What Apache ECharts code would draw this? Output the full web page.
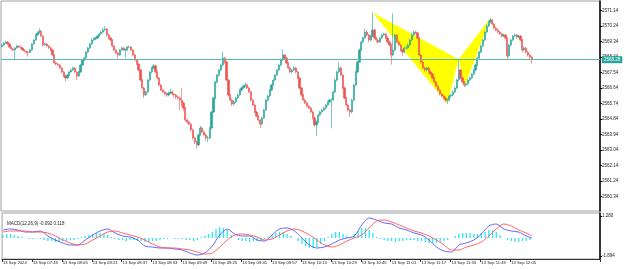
<!DOCTYPE html>
<html><head><meta charset="utf-8">
<script src="https://cdn.jsdelivr.net/npm/echarts@6/dist/echarts.min.js"></script>
<style>html,body{margin:0;padding:0;background:#fff}#c{width:625px;height:269px}</style>
</head><body><div id="c"></div>
<script>
// ---- data ----
const firstOpen = 2569.05;
const closes = [
2569.13,2569.25,2569.30,2569.19,2569.01,2568.90,2568.84,2568.96,2569.07,2569.01,
2568.96,2568.84,2568.78,2568.72,2568.70,2568.84,2569.19,2569.42,2569.71,2569.82,
2569.94,2569.65,2569.13,2569.19,2569.07,2568.96,2568.84,2568.55,2568.09,2568.03,
2567.97,2567.80,2567.57,2567.33,2567.22,2567.39,2567.57,2567.68,2567.80,2567.57,
2567.33,2567.57,2567.97,2568.26,2568.38,2568.72,2568.96,2569.19,2569.42,2569.48,
2569.54,2569.65,2569.77,2569.88,2570.00,2570.05,2569.71,2569.54,2569.42,2569.07,
2568.84,2568.67,2568.55,2568.84,2568.96,2568.84,2568.84,2569.01,2569.01,2568.84,
2568.55,2568.26,2568.03,2567.68,2567.10,2566.64,2566.23,2566.41,2567.10,2567.57,
2567.80,2567.92,2567.57,2567.22,2566.81,2566.52,2566.41,2566.29,2566.23,2566.35,
2566.41,2566.29,2566.23,2566.12,2566.06,2565.94,2565.77,2565.48,2564.78,2564.67,
2564.55,2564.21,2563.74,2563.51,2563.34,2563.92,2564.32,2564.09,2563.92,2563.74,
2563.74,2564.32,2565.25,2566.06,2566.99,2567.39,2567.68,2567.97,2568.38,2568.14,
2567.10,2566.23,2565.94,2565.71,2565.83,2566.06,2566.23,2566.52,2566.64,2566.75,
2566.81,2566.64,2566.41,2565.94,2565.65,2565.25,2565.01,2564.78,2564.55,2564.90,
2565.36,2565.94,2566.18,2566.52,2566.81,2567.10,2567.39,2567.68,2567.97,2568.26,
2568.55,2568.38,2568.09,2567.80,2567.57,2567.68,2567.80,2567.57,2567.22,2566.64,
2566.23,2565.94,2565.77,2565.59,2565.48,2565.25,2564.90,2564.50,2564.67,2565.07,
2565.25,2565.36,2565.48,2565.65,2565.83,2565.94,2565.94,2566.41,2567.10,2567.57,
2567.80,2567.39,2566.64,2566.06,2565.65,2565.36,2565.25,2565.94,2566.81,2567.57,
2568.14,2568.84,2569.30,2569.54,2569.88,2569.71,2569.42,2569.65,2570.00,2569.54,
2569.42,2569.30,2569.54,2569.71,2569.77,2569.54,2569.30,2569.13,2568.55,2568.84,
2569.71,2569.30,2569.13,2568.84,2568.72,2568.96,2568.96,2569.13,2569.42,2569.71,
2569.88,2569.82,2569.54,2568.55,2568.14,2567.80,2567.68,2567.80,2567.57,2567.45,
2567.22,2566.99,2566.75,2566.52,2566.29,2566.18,2566.06,2565.94,2565.94,2566.18,
2566.23,2566.41,2566.64,2567.10,2567.68,2567.22,2566.99,2566.81,2566.87,2567.10,
2567.22,2567.45,2567.68,2567.97,2568.38,2568.72,2569.07,2569.42,2569.88,2570.23,
2570.46,2570.58,2570.35,2570.11,2570.00,2569.88,2569.77,2569.65,2569.71,2569.54,
2568.49,2569.13,2569.42,2569.65,2569.71,2569.59,2569.65,2569.42,2568.84,2568.96,
2568.72,2568.55,2568.43,2568.28
];
const highs = [
2569.20,2569.31,2569.38,2569.34,2569.24,2569.06,2568.95,2569.02,2569.14,2569.12,
2569.06,2569.00,2568.88,2568.82,2568.77,2568.90,2569.24,2569.47,2569.76,2569.90,
2570.10,2570.00,2569.70,2569.28,2569.25,2569.12,2569.01,2568.90,2568.60,2568.18,
2568.10,2568.02,2567.86,2567.62,2567.40,2567.45,2567.62,2567.75,2567.88,2567.86,
2567.63,2567.64,2568.02,2568.32,2568.45,2568.78,2569.02,2569.25,2569.50,2569.58,
2569.62,2569.72,2569.84,2569.95,2570.12,2570.23,2570.12,2569.78,2569.60,2569.48,
2569.12,2568.92,2568.74,2568.90,2569.05,2569.02,2568.93,2569.08,2569.10,2569.08,
2568.90,2568.62,2568.32,2568.10,2567.75,2567.18,2566.70,2566.50,2567.15,2567.62,
2567.88,2568.03,2568.00,2567.64,2567.30,2566.88,2566.60,2566.48,2566.38,2566.42,
2566.60,2566.50,2566.35,2566.30,2566.20,2566.14,2566.62,2565.85,2565.55,2564.86,
2564.75,2564.62,2564.30,2563.82,2563.60,2563.98,2564.45,2564.40,2564.18,2564.02,
2563.85,2564.40,2565.32,2566.12,2567.05,2567.45,2567.75,2568.05,2568.72,2568.45,
2568.22,2567.18,2566.30,2566.02,2565.95,2566.14,2566.32,2566.60,2566.72,2566.85,
2566.95,2566.90,2566.70,2566.48,2566.02,2565.72,2565.32,2565.08,2564.85,2564.98,
2565.42,2566.00,2566.25,2566.60,2566.88,2567.18,2567.45,2567.75,2568.05,2568.35,
2568.88,2568.60,2568.45,2568.15,2567.88,2567.75,2567.92,2567.88,2567.64,2567.30,
2566.70,2566.30,2566.02,2565.85,2565.66,2565.55,2565.32,2564.98,2564.75,2565.15,
2565.32,2565.44,2565.55,2565.72,2565.90,2566.02,2566.05,2566.48,2567.18,2567.65,
2568.14,2567.88,2567.45,2566.72,2566.14,2565.72,2565.44,2566.02,2566.88,2567.65,
2568.22,2568.92,2569.38,2569.62,2570.10,2570.00,2569.78,2569.72,2571.02,2570.08,
2569.62,2569.50,2569.60,2569.78,2569.85,2569.84,2569.62,2569.38,2569.20,2570.98,
2569.78,2569.76,2569.38,2569.20,2568.90,2569.04,2569.05,2569.20,2569.50,2569.85,
2569.98,2569.96,2569.88,2569.60,2568.62,2568.22,2567.88,2567.88,2567.86,2567.64,
2567.52,2567.30,2567.06,2566.82,2566.60,2566.36,2566.26,2566.14,2566.02,2566.25,
2566.30,2566.50,2566.72,2567.18,2568.30,2567.75,2567.30,2567.06,2566.95,2567.18,
2567.30,2567.52,2567.75,2568.05,2568.45,2568.80,2569.15,2569.50,2569.95,2570.32,
2570.55,2570.70,2570.65,2570.42,2570.20,2570.08,2569.95,2569.84,2569.80,2569.78,
2569.60,2569.20,2569.50,2569.72,2569.80,2569.78,2569.72,2569.70,2569.48,2569.05,
2569.02,2568.80,2568.62,2568.50
];
const lows = [
2569.00,2569.08,2569.21,2569.14,2568.95,2568.85,2568.77,2568.25,2568.92,2568.96,
2568.90,2568.80,2568.73,2568.60,2568.45,2568.66,2568.80,2569.15,2569.38,2569.66,
2569.78,2569.60,2569.05,2569.08,2569.00,2568.90,2568.78,2568.50,2568.02,2567.95,
2567.90,2567.75,2567.50,2567.25,2567.02,2567.15,2567.32,2567.52,2567.62,2567.50,
2567.10,2567.28,2567.50,2567.90,2568.20,2568.32,2568.66,2568.90,2569.12,2569.36,
2569.40,2569.48,2569.60,2569.70,2569.82,2569.92,2569.62,2569.45,2569.35,2569.00,
2568.78,2568.60,2568.30,2568.50,2568.80,2568.78,2568.38,2568.80,2568.94,2568.78,
2568.50,2568.20,2567.97,2567.60,2567.02,2566.55,2566.06,2566.18,2566.35,2567.02,
2567.50,2567.72,2567.50,2567.15,2566.74,2566.45,2566.34,2566.22,2566.12,2566.15,
2566.28,2566.22,2566.10,2566.00,2565.98,2565.35,2565.55,2565.30,2564.70,2564.55,
2564.48,2564.12,2563.65,2563.40,2563.10,2563.25,2563.85,2564.00,2563.85,2563.60,
2563.50,2563.65,2564.25,2565.18,2565.98,2566.90,2567.30,2567.60,2567.90,2568.05,
2567.02,2566.15,2565.85,2565.60,2565.62,2565.76,2566.00,2566.18,2566.45,2566.58,
2566.68,2566.58,2566.35,2565.86,2565.58,2565.18,2564.94,2564.70,2564.32,2564.48,
2564.84,2565.30,2565.86,2566.10,2566.45,2566.74,2567.02,2567.32,2567.60,2567.90,
2568.20,2568.30,2568.02,2567.72,2567.50,2567.50,2567.62,2567.50,2567.15,2566.56,
2566.15,2565.86,2565.70,2565.50,2565.40,2565.18,2564.82,2564.40,2563.85,2564.60,
2565.00,2565.18,2565.30,2565.40,2565.58,2565.76,2564.30,2565.88,2566.34,2567.02,
2567.50,2567.32,2566.56,2565.98,2565.58,2565.28,2564.96,2565.18,2565.86,2566.74,
2567.50,2568.08,2568.78,2569.22,2569.48,2569.62,2569.30,2569.35,2569.58,2569.46,
2569.28,2569.22,2569.24,2569.48,2569.64,2569.46,2569.22,2569.05,2568.00,2568.48,
2568.76,2569.22,2569.05,2568.76,2568.50,2568.65,2568.88,2568.90,2569.06,2569.35,
2569.64,2569.76,2569.48,2568.48,2568.05,2567.72,2567.58,2567.60,2567.48,2567.36,
2567.15,2566.92,2566.68,2566.44,2566.22,2566.10,2565.98,2565.80,2565.72,2565.88,
2566.05,2566.15,2566.34,2566.58,2567.02,2567.14,2566.90,2566.70,2566.72,2566.80,
2567.02,2567.15,2567.38,2567.60,2567.90,2568.30,2568.65,2569.00,2569.35,2569.82,
2570.15,2570.38,2570.28,2570.04,2569.92,2569.80,2569.70,2569.58,2569.60,2569.46,
2568.28,2568.42,2569.05,2569.35,2569.58,2569.50,2569.55,2569.35,2568.70,2568.78,
2568.62,2568.45,2568.25,2568.05
];
const priceTicks = [2560.34,2561.24,2562.14,2563.04,2563.94,2564.84,2565.74,2566.64,2567.54,2568.44,2569.34,2570.24,2571.14];
const timeTickLabels = ["13 Sep 2024","13 Sep 07:49","13 Sep 08:05","13 Sep 08:21","13 Sep 08:37","13 Sep 08:53","13 Sep 09:09","13 Sep 09:25","13 Sep 09:41","13 Sep 09:57","13 Sep 10:13","13 Sep 10:29","13 Sep 10:45","13 Sep 11:01","13 Sep 11:17","13 Sep 11:33","13 Sep 11:49","13 Sep 12:05"];
const barsPerTimeLabel = 16;
const slotCount = 320;           // bars + empty chart shift on the right
const lastPrice = 2568.28;
const patternBars   = [198, 238, 244, 247, 261];
const patternPrices = [2571.02, 2565.72, 2568.30, 2566.70, 2570.70];

// MACD window
const macdTicks = [1.280, -1.894];
const macdTitle = "MACD(12,26,9) -0.092 0.118";
const macdBars = [0,4,8,12,16,20,24,28,32,36,40,44,48,52,56,60,64,68,72,76,80,84,88,92,96,100,104,108,112,116,120,124,128,132,136,140,144,148,152,156,160,164,168,172,176,180,184,188,192,196,200,204,208,212,216,220,224,228,232,236,240,244,248,252,256,260,264,268,272,276,280,283];
const macdMain = [0.169,0.248,0.169,0.010,0.010,0.089,-0.307,-0.625,-0.863,-1.022,-1.022,-0.625,-0.228,0.089,0.248,-0.069,-0.307,-0.387,-0.625,-1.101,-1.180,-1.260,-1.260,-1.339,-1.418,-1.656,-1.815,-1.656,-1.101,-0.228,0.248,-0.149,-0.307,-0.307,-0.625,-0.704,-0.228,0.248,0.328,0.089,-0.466,-1.022,-1.260,-1.180,-0.942,-0.625,-0.466,-0.307,0.566,1.121,0.962,0.724,0.645,0.328,0.169,-0.069,-0.228,-0.625,-1.180,-1.498,-1.577,-1.022,-0.863,-0.625,-0.149,0.486,0.645,0.248,0.089,0.010,-0.307,-0.466];
const macdSignal = [0.010,0.089,0.089,0.089,0.010,0.010,-0.069,-0.307,-0.625,-0.863,-1.022,-0.942,-0.625,-0.307,0.010,0.089,-0.069,-0.228,-0.387,-0.625,-0.942,-1.180,-1.260,-1.260,-1.339,-1.418,-1.577,-1.736,-1.656,-1.180,-0.625,-0.228,-0.149,-0.228,-0.387,-0.625,-0.545,-0.228,0.089,0.248,0.089,-0.228,-0.625,-1.022,-1.180,-1.022,-0.704,-0.466,-0.228,0.328,0.883,0.962,0.804,0.566,0.328,0.089,-0.069,-0.307,-0.625,-1.022,-1.418,-1.418,-1.180,-1.022,-0.783,-0.307,0.248,0.645,0.486,0.169,-0.069,-0.307];
const histBarStep = 2;           // histogram read at every second bar
const histValues = [
0.24,0.32,0.32,0.24,
0.16,0.08,0.00,-0.08,-0.08,0.00,
-0.08,-0.16,-0.24,-0.24,-0.32,-0.32,-0.24,-0.24,-0.16,-0.16,-0.08,0.08,
0.16,0.24,0.32,0.40,0.40,0.32,0.24,0.08,
-0.08,-0.16,-0.16,-0.24,-0.16,-0.16,-0.24,-0.24,-0.32,
-0.32,-0.24,-0.24,-0.16,-0.08,
-0.08,0.00,-0.08,-0.08,-0.08,-0.16,-0.16,-0.24,-0.16,
0.08,0.16,0.32,0.48,
0.71,0.87,0.79,0.63,
0.24,0.00,-0.16,-0.24,-0.24,-0.32,-0.24,-0.24,-0.16,-0.08,0.08,
0.24,0.40,0.48,0.48,0.32,0.16,0.00,
-0.24,-0.48,-0.63,-0.79,-0.79,-0.71,-0.48,-0.24,
0.08,0.32,0.48,0.48,0.32,0.16,0.08,
0.32,0.56,0.79,0.79,0.63,0.40,
0.08,-0.08,-0.16,-0.24,-0.24,-0.32,-0.24,-0.24,-0.16,-0.16,
-0.16,-0.24,-0.24,-0.32,-0.40,-0.40,-0.40,-0.32,-0.24,-0.16,0.00,0.16,
0.32,0.40,0.40,0.40,0.32,0.32,0.40,0.48,
0.63,0.63,0.48,0.24,0.00,
-0.16,-0.24,-0.32,-0.32,-0.24,-0.24,-0.16
];

// ---- build ----
const n = closes.length;
const opens = closes.map((c, i) => i === 0 ? firstOpen : closes[i - 1]);
const candles = closes.map((c, i) => [opens[i], c, lows[i], highs[i]]);
const slots = Array.from({length: slotCount}, (_, i) => String(i));
const histData = histValues.map((v, k) => [k * histBarStep, v]);
const mainData = macdBars.map((b, k) => [b, macdMain[k]]);
const sigData = macdBars.map((b, k) => [b, macdSignal[k]]);

const font = 'Arial';
const chart = echarts.init(document.getElementById('c'));
chart.setOption({
  animation: false,
  backgroundColor: '#ffffff',
  title: { text: macdTitle, left: 2, top: 216, textStyle: { fontSize: 4.5, fontWeight: 'normal', color: '#222', fontFamily: font } },
  grid: [
    { left: 1, top: 1, width: 599, height: 210, show: true, borderColor: '#a0a0a0', borderWidth: 1, backgroundColor: '#fff' },
    { left: 1, top: 213, width: 599, height: 46, show: true, borderColor: '#a0a0a0', borderWidth: 1, backgroundColor: '#fff' }
  ],
  xAxis: [
    { type: 'category', gridIndex: 0, data: slots, boundaryGap: true, axisLine: { show: false, onZero: false }, axisTick: { show: false }, axisLabel: { show: false }, splitLine: { show: false } },
    { type: 'category', gridIndex: 1, data: slots, boundaryGap: true, position: 'bottom',
      axisLine: { show: true, onZero: false, lineStyle: { color: '#333', width: 1 } },
      axisTick: { show: true, length: 3, lineStyle: { color: '#333' }, interval: (idx) => idx % barsPerTimeLabel === 0 && idx < n },
      axisLabel: { show: true, fontSize: 4.2, color: '#222', fontFamily: font, align: 'left', margin: 2,
        interval: (idx) => idx % barsPerTimeLabel === 0 && idx < n,
        formatter: (v, idx) => (idx % barsPerTimeLabel === 0 && idx < n) ? timeTickLabels[idx / barsPerTimeLabel] : '' },
      splitLine: { show: false } }
  ],
  yAxis: [
    { type: 'value', gridIndex: 0, position: 'right', min: 2559.51, max: 2571.68, scale: true,
      axisLine: { show: true, lineStyle: { color: '#000', width: 1.5 } },
      axisTick: { show: true, length: 2, lineStyle: { color: '#000' }, customValues: priceTicks },
      axisLabel: { show: true, fontSize: 4.5, color: '#222', fontFamily: font, margin: 2, customValues: priceTicks, formatter: v => v.toFixed(2) },
      splitLine: { show: false } },
    { type: 'value', gridIndex: 1, position: 'right', min: -2.132, max: 1.518,
      axisLine: { show: true, lineStyle: { color: '#000', width: 1.5 } },
      axisTick: { show: true, length: 2, lineStyle: { color: '#000' }, customValues: macdTicks },
      axisLabel: { show: true, fontSize: 4.5, color: '#222', fontFamily: font, margin: 2, customValues: macdTicks, formatter: v => v.toFixed(3) },
      splitLine: { show: false } },
    { type: 'value', gridIndex: 1, min: -1.667, max: 1.984, show: false, splitLine: { show: false } }
  ],
  series: [
    { type: 'custom', xAxisIndex: 0, yAxisIndex: 0, z: 1, silent: true,
      data: [[patternBars[0], patternPrices[0]], [patternBars[2], patternPrices[2]]],
      renderItem: (params, api) => {
        const tri = params.dataIndex === 0 ? [0, 1, 2] : [2, 3, 4];
        const pts = tri.map(j => api.coord([patternBars[j], patternPrices[j]]));
        return { type: 'polygon', shape: { points: pts }, style: { fill: '#ffff00' } };
      } },
    { type: 'candlestick', xAxisIndex: 0, yAxisIndex: 0, z: 3, data: candles, barWidth: 1.7,
      itemStyle: { color: '#26a69a', color0: '#ef5350', borderColor: '#26a69a', borderColor0: '#ef5350', borderWidth: 0.6 },
      markLine: { symbol: 'none', silent: true, animation: false, data: [{ yAxis: lastPrice }],
        lineStyle: { color: '#5fb8ad', width: 1, type: 'solid' },
        label: { position: 'end', formatter: lastPrice.toFixed(2), backgroundColor: '#26a69a', color: '#fff', fontSize: 4.5, fontFamily: font, padding: [1, 2], distance: 2 } } },
    { type: 'bar', xAxisIndex: 1, yAxisIndex: 2, data: histData, barWidth: 1.3, itemStyle: { color: '#2fe3f5' }, z: 2 },
    { type: 'line', xAxisIndex: 1, yAxisIndex: 1, data: mainData, showSymbol: false, smooth: 0.3, lineStyle: { color: '#5555ff', width: 0.9 }, z: 3 },
    { type: 'line', xAxisIndex: 1, yAxisIndex: 1, data: sigData, showSymbol: false, smooth: 0.3, lineStyle: { color: '#ff5555', width: 0.9 }, z: 3 }
  ]
});
</script>
</body></html>
